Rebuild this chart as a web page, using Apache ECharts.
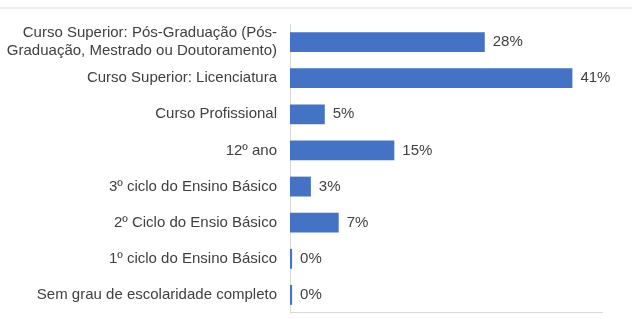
<!DOCTYPE html>
<html><head><meta charset="utf-8">
<script src="https://cdn.jsdelivr.net/npm/echarts@6/dist/echarts.min.js"></script>
<style>html,body{margin:0;padding:0;background:#fff}#c{width:632px;height:319px}</style>
</head><body><div id="c"></div>
<script>
const categories = [
  "Sem grau de escolaridade completo",
  "1º ciclo do Ensino Básico",
  "2º Ciclo do Ensio Básico",
  "3º ciclo do Ensino Básico",
  "12º ano",
  "Curso Profissional",
  "Curso Superior: Licenciatura",
  "Curso Superior: Pós-Graduação (Pós-\nGraduação, Mestrado ou Doutoramento)"
];
const values = [0.3, 0.3, 7, 3, 15, 5, 40.6, 28];
const labels = ["0%", "0%", "7%", "3%", "15%", "5%", "41%", "28%"];

const chart = echarts.init(document.getElementById('c'));
chart.setOption({
  animation: false,
  textStyle: {fontFamily: 'Liberation Sans, Arial, sans-serif'},
  grid: {left: 290, right: 29, top: 24, bottom: 6},
  xAxis: {type: 'value', min: 0, max: 45,
    axisLine: {show: false}, axisTick: {show: false}, axisLabel: {show: false}, splitLine: {show: false}},
  yAxis: {type: 'category', data: categories,
    axisLine: {show: true, lineStyle: {color: '#d9d9d9'}}, axisTick: {show: false},
    axisLabel: {color: '#404040', fontSize: 15, margin: 13, lineHeight: 18, align: 'right',
      fontFamily: 'Liberation Sans, Arial, sans-serif'}},
  series: [{type: 'bar', data: values, barCategoryGap: '45%',
    itemStyle: {color: '#4472c4'},
    label: {show: true, position: 'right', distance: 8, color: '#404040', fontSize: 15,
      fontFamily: 'Liberation Sans, Arial, sans-serif',
      formatter: p => labels[p.dataIndex]}
  }],
  graphic: [
    {type: 'rect', shape: {x: 0, y: 7, width: 632, height: 2}, style: {fill: '#eeeeee'}},
    {type: 'rect', shape: {x: 290, y: 312, width: 313, height: 1}, style: {fill: '#d9d9d9'}}
  ]
});
</script></body></html>
